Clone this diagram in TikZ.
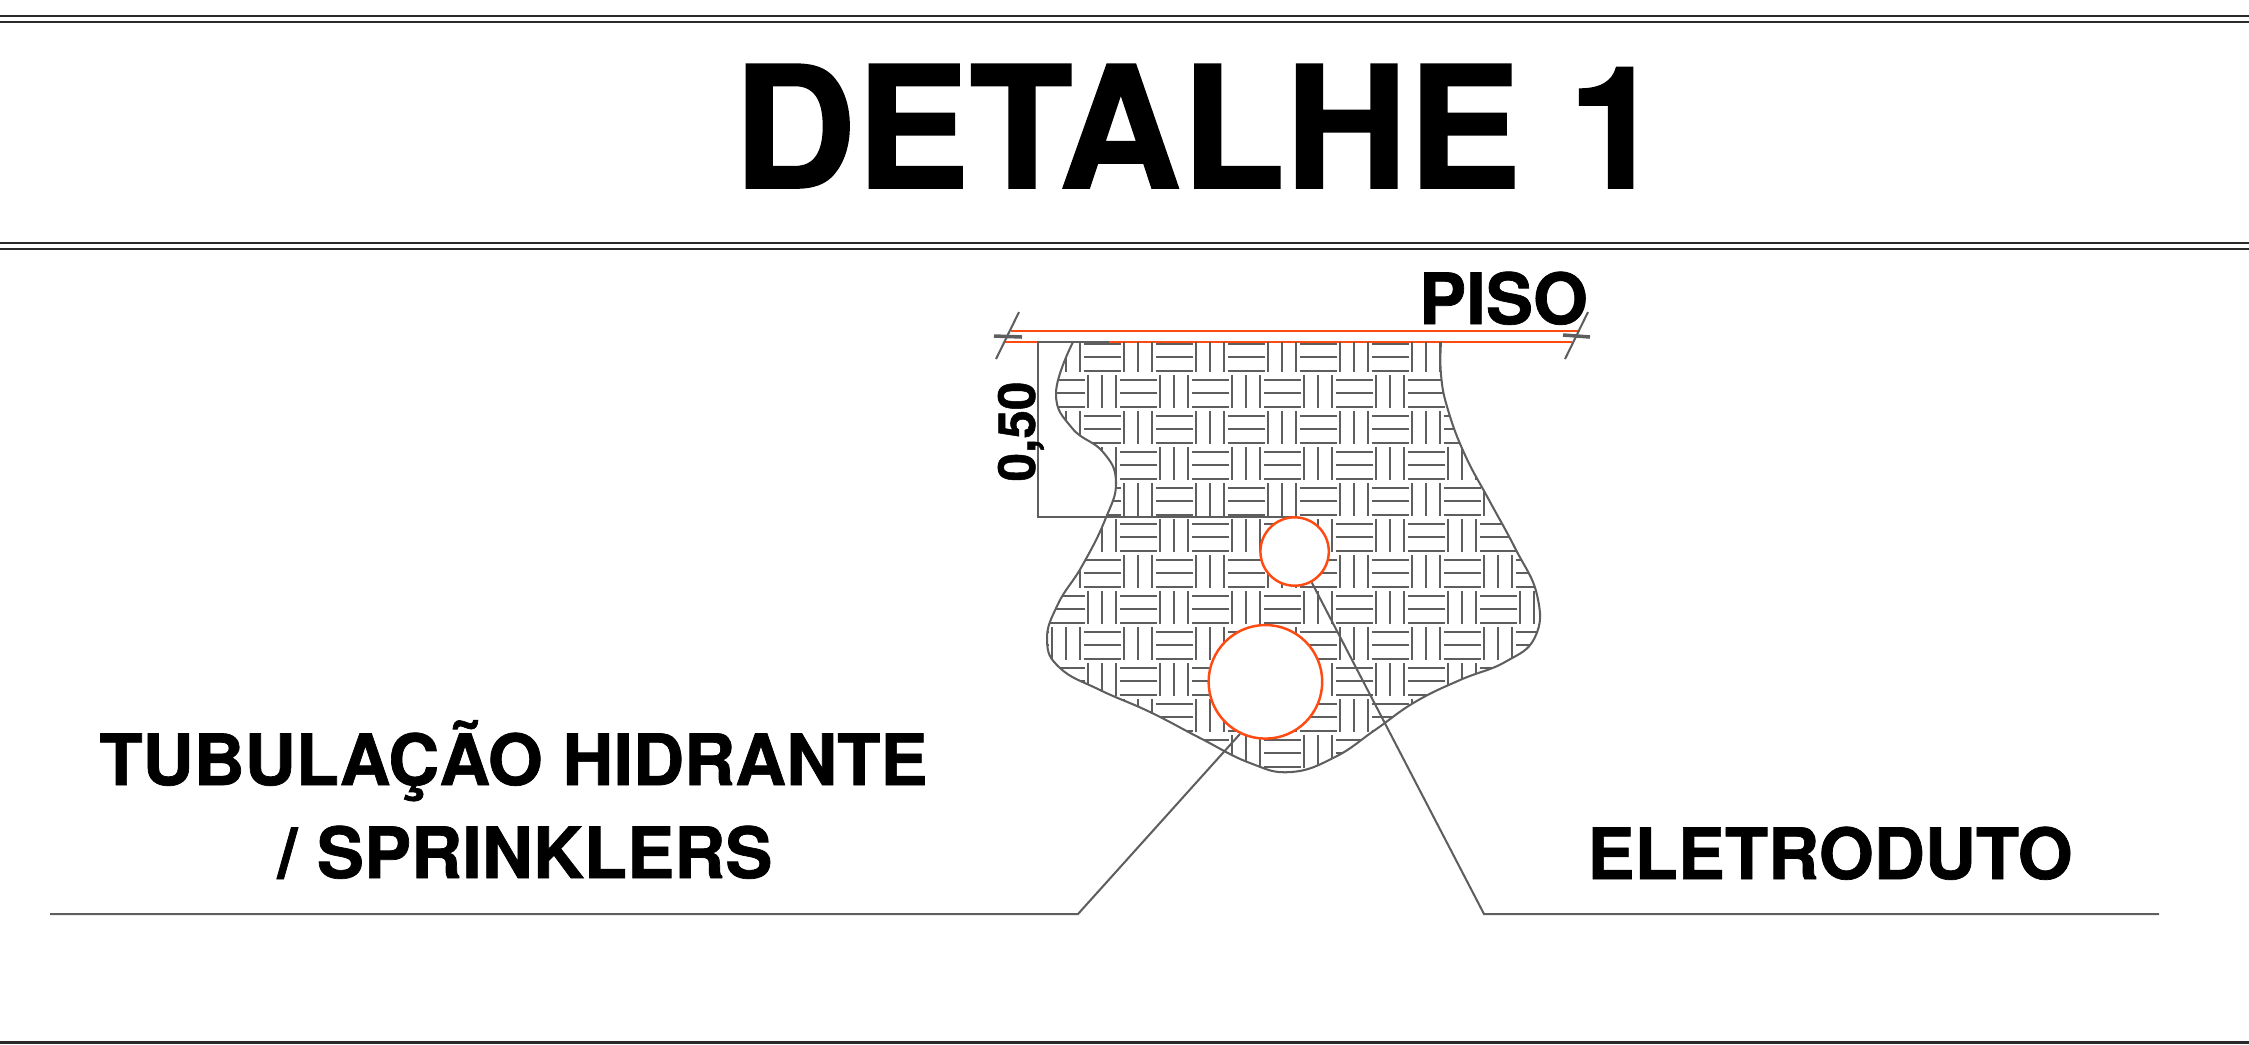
\documentclass[tikz,border=0pt]{standalone}
\usepackage{fontspec}
\setmainfont[BoldFeatures={FakeBold=1}]{TeX Gyre Heros}
\definecolor{cutline}{HTML}{FF4A12}
\definecolor{hatchline}{HTML}{5E5E5E}
\definecolor{ruleline}{HTML}{2A2A2A}
\tikzset{
  rule/.style={line width=0.7pt,draw=ruleline},
  thinline/.style={line width=0.58pt,draw=hatchline},
  floorline/.style={line width=0.7pt,draw=cutline},
  pipe/.style={circle,inner sep=0pt,draw=cutline,fill=white,line width=0.7pt},
  bigtext/.style={inner sep=0pt,anchor=base,font=\bfseries\fontsize{20.1}{20.1}\selectfont}
}
\begin{document}
\begin{tikzpicture}[x=0.01cm,y=-0.01cm]

% paper size:
\pgfmathsetmacro\pwidth{2249};
\pgfmathsetmacro\pheight{1044};
% hatch block size:
\pgfmathsetmacro\B{36};

\useasboundingbox (0,0) rectangle (\pwidth,\pheight);

\newcommand{\soilpath}{
  plot[smooth,tension=0.75] coordinates {(1073,342) (1056,393) (1072,428) (1103,452) (1116,482) (1105,520)
    (1082,566) (1058,604) (1047,640) (1060,668) (1100,690) (1150,712) (1200,738) (1250,763) (1291,772)
    (1335,757) (1375,730) (1415,702) (1460,680) (1505,662) (1535,637) (1537,595)
    (1515,548) (1489,500) (1465,455) (1448,410) (1441,375) (1441,342)}
}
\newcommand{\thistile}{
  \foreach \k in {0,1,2}{
    \draw[thinline] (0,13.5*\k) -- ++(37,0);
    \draw[thinline] (40.4+14*\k,-4.7) -- ++(0,32.7);
  }
}

% double rules:
\draw[rule] (0,16) -- (\pwidth,16);
\draw[rule] (0,22) -- (\pwidth,22);
\draw[rule] (0,243) -- (\pwidth,243);
\draw[rule] (0,249) -- (\pwidth,249);
\draw[rule] (0,1042.5) -- (\pwidth,1042.5);

\node[bigtext,font=\bfseries\fontsize{48.3}{48.3}\selectfont] (title) at (1198,188) {DETALHE 1};

% floor:
\draw[floorline] (1011,331) -- (1579,331);
\draw[floorline] (1004,342) -- (1572,342);
\draw[thinline] (996,359) -- (1019,312);
\draw[thinline,line width=1pt] (994,336) -- (1022,337);
\draw[thinline] (1565,359) -- (1588,312);
\draw[thinline,line width=1pt] (1563,335) -- (1590,337);

% soil hatch:
\begin{scope}
  \clip \soilpath -- cycle;
  \foreach \col in {-1,0,...,7}{
    \foreach \row in {0,2,4,...,12} {
      \begin{scope}[shift={(1083.7+2*\B*\col,343.7+\B*\row)}]
        \thistile
      \end{scope}
    }
    \foreach \row in {1,3,5,...,11} {
      \begin{scope}[shift={(1083.7+2*\B*\col+\B,343.7+\B*\row)}]
        \thistile
      \end{scope}
    }
  }
\end{scope}
\draw[thinline] \soilpath;

% dimension:
\coordinate (dimtop) at (1038,342);
\coordinate (dimbot) at (1038,517);
\draw[thinline] (1109,342) -- (dimtop) -- (dimbot) -- (1295,517);
\node[bigtext,font=\bfseries\fontsize{14.6}{14.6}\selectfont,rotate=90] (dimlabel) at (1035,431.5) {0,50};

% leaders, pipes:
\coordinate (leftend) at (50,914);
\coordinate (leftknee) at (1078,914);
\coordinate (rightend) at (2159,914);
\coordinate (rightknee) at (1484,914);
\node[pipe,minimum size=68.4*0.01cm] (conduit) at (1294.6,551.5) {};
\node[pipe,minimum size=113.6*0.01cm] (hydrant) at (1265.4,681.8) {};
\draw[thinline] (leftend) -- (leftknee) -- (hydrant.244.5);
\draw[thinline] (rightend) -- (rightknee) -- (conduit.-61.8);

\node[bigtext] (hydrantlabel) at (513.5,785) {TUBULAÇÃO HIDRANTE};
\node[bigtext] (sprinklerlabel) at (525,878) {/ SPRINKLERS};
\node[bigtext] (conduitlabel) at (1830,879) {ELETRODUTO};
\node[bigtext] (floorlabel) at (1503.5,324) {PISO};

\end{tikzpicture}
\end{document}
